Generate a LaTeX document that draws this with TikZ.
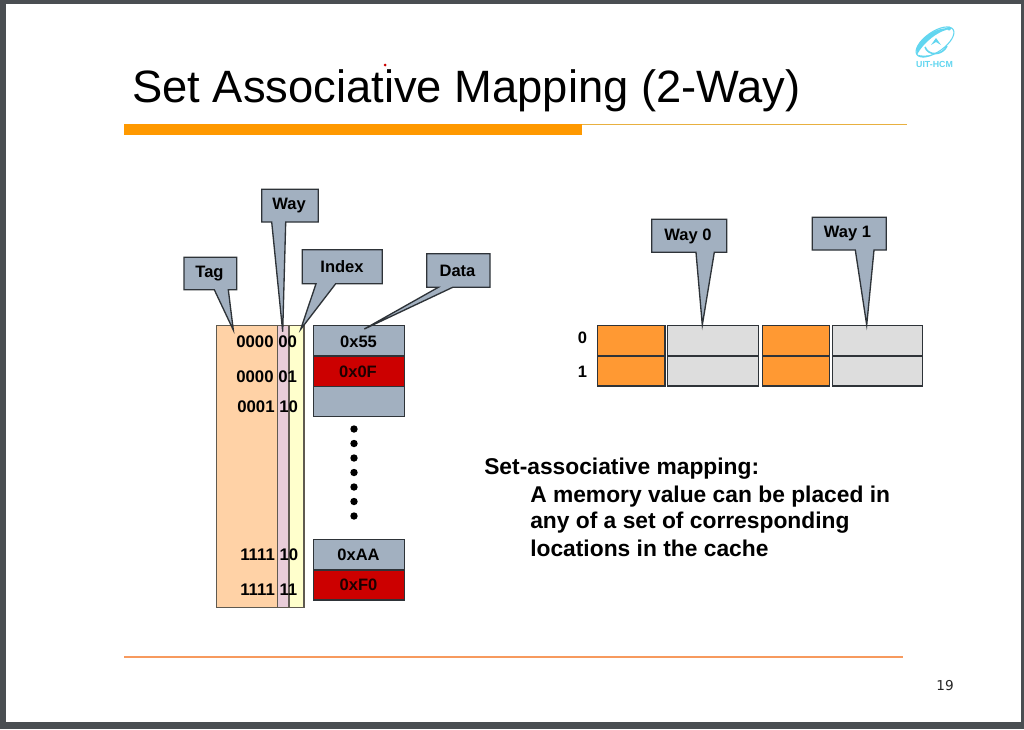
\documentclass[tikz,border=0pt]{standalone}
\usepackage{fontspec}
\setmainfont{Liberation Sans}
\newfontfamily\numfont{DejaVu Sans}
\definecolor{slate}{HTML}{A2B0C0}
\definecolor{edge}{HTML}{2E3338}
\definecolor{peach}{HTML}{FFD2A6}
\definecolor{pinkc}{HTML}{E9CDD9}
\definecolor{creamc}{HTML}{FFFFCC}
\definecolor{darkred}{HTML}{CC0000}
\definecolor{orangec}{HTML}{FF9933}
\definecolor{greyc}{HTML}{DDDDDD}
\definecolor{barc}{HTML}{FF9900}
\definecolor{linec}{HTML}{F79A5E}
\definecolor{topline}{HTML}{E8B040}
\definecolor{logoc}{HTML}{62D6F0}
\definecolor{frame}{HTML}{4A4E52}
\definecolor{redtext}{HTML}{1E0000}
\definecolor{coledge}{HTML}{5F5A50}
\tikzset{
  callout/.style={draw=edge,fill=slate,line width=1pt,line join=miter},
  calltext/.style={font=\fontsize{12.4}{14}\selectfont\bfseries,text=black,inner sep=0pt},
  col/.style={draw=coledge,line width=1.1pt,fill=#1},
  cell/.style={draw=edge,line width=1.1pt},
  addr/.style={font=\fontsize{12.6}{14}\selectfont\bfseries,text=black,inner sep=0pt},
  datat/.style={font=\fontsize{12.4}{14}\selectfont\bfseries,text=black,inner sep=0pt},
  redt/.style={datat,text=redtext},
  body/.style={font=\fontsize{17.1}{20}\selectfont\bfseries,text=black,inner sep=0pt,anchor=base west},
}
\begin{document}
\begin{tikzpicture}[x=0.75pt,y=-0.75pt]
\useasboundingbox (0,0) rectangle (1024,729);
\fill[frame] (0,0) rectangle (1024,729);
\fill[white] (6,4) rectangle (1021,722);
% title
\node[anchor=base west,inner sep=0pt,font=\fontsize{34}{40}\selectfont,text=black] (title) at (132,102.5) {Set Associative Mapping (2-Way)};
\fill[red!80!black] (385,65) circle (1.5);
\fill[barc] (124,124) rectangle (582,135);
\draw[topline,line width=0.7pt] (582,124.3) -- (907,124.3);
\draw[linec,line width=1pt] (124,657) -- (903,657);
\node[font=\fontsize{10.2}{12}\selectfont\numfont,text=black!85,inner sep=0pt] (pagenum) at (945,685.5) {19};
% logo
\begin{scope}[logoc]
  \draw[line width=0.8pt,rotate around={35:(935,42)}] (935,42) ellipse (22 and 10);
  \fill[rotate around={35:(935,42)}] (913,42) .. controls (915,30) and (945,28) .. (957,41) .. controls (945,34) and (925,36) .. (913,42) -- cycle;
  \fill[rotate around={35:(935,42)}] (913,42) .. controls (914,48) and (920,50) .. (926,51) .. controls (921,49) and (916,46) .. (913,42) -- cycle;
  \fill (949,28.5) circle (2);
  \fill (931,45) -- (936,38) -- (941,45) -- (936,42) -- cycle;
  \draw[line width=1.2pt] (925,47) .. controls (928,56) and (942,56) .. (947,46);
  \node[font=\fontsize{6.6}{8}\selectfont\bfseries,text=logoc,inner sep=0pt] (logotext) at (934.5,64.5) {UIT-HCM};
\end{scope}
% address columns
\draw[col=peach] (216.7,325.7) rectangle (277.3,607.3);
\draw[col=pinkc] (277.3,325.7) rectangle (289,607.3);
\draw[col=creamc] (289,325.7) rectangle (304,607.3);
% data cells
\draw[cell,fill=slate] (313.7,325.7) rectangle (404.3,356);
\draw[cell,fill=darkred] (313.7,356) rectangle (404.3,386.3);
\draw[cell,fill=slate] (313.7,386.3) rectangle (404.3,416.3);
\draw[cell,fill=slate] (313.7,539.7) rectangle (404.3,570);
\draw[cell,fill=darkred] (313.7,570) rectangle (404.3,600);
\foreach \yy in {429,443.5,458,472.5,487,501.5,516} \fill[black] (354,\yy) circle (3.7);
% callouts left
\draw[callout] (184,257.3) -- (236.7,257.3) -- (236.7,289.7) -- (228.3,289.7) -- (233.3,330) -- (214.3,289.7) -- (184,289.7) -- cycle;
\node[calltext] (tag) at (209.5,273.5) {Tag};
\draw[callout] (261.7,189.3) -- (318.3,189.3) -- (318.3,222) -- (285.7,222) -- (282.7,331.7) -- (271.7,222) -- (261.7,222) -- cycle;
\node[calltext] (way) at (289,206) {Way};
\draw[callout] (302.3,249.7) -- (382.3,249.7) -- (382.3,283.7) -- (335.7,283.7) -- (300.7,329.3) -- (316,283.7) -- (302.3,283.7) -- cycle;
\node[calltext] (index) at (342,267) {Index};
\draw[callout] (426.7,253.7) -- (490,253.7) -- (490,287.3) -- (452.7,287.3) -- (364.3,329) -- (438.3,287.3) -- (426.7,287.3) -- cycle;
\node[calltext] (data) at (457.5,270.5) {Data};
% address rows
\node[addr,anchor=west] (r1) at (236,341.5) {0000 00};
\node[addr,anchor=west] (r2) at (236,376.5) {0000 01};
\node[addr,anchor=west] (r3) at (237,406.5) {0001 10};
\node[addr,anchor=west] (r4) at (240,554.5) {1111 10};
\node[addr,anchor=west] (r5) at (240,589.5) {1111 11};
% data text
\node[datat] (d1) at (358.5,341.5) {0x55};
\node[redt] (d2) at (358,371.5) {0x0F};
\node[datat] (d3) at (358.5,555) {0xAA};
\node[redt] (d4) at (358.5,585) {0xF0};
% right cells
\foreach \xa/\xb in {597.3/665,762.7/829.3} {
  \draw[cell,fill=orangec] (\xa,325.7) rectangle (\xb,356);
  \draw[cell,fill=orangec] (\xa,356) rectangle (\xb,386);
}
\foreach \xa/\xb in {667.3/758.3,832.7/922.3} {
  \draw[cell,fill=greyc] (\xa,325.7) rectangle (\xb,356);
  \draw[cell,fill=greyc] (\xa,356) rectangle (\xb,386);
}
\node[calltext] (n0) at (582.5,337.5) {0};
\node[calltext] (n1) at (582.5,371.5) {1};
\draw[callout] (651.7,219.3) -- (726.7,219.3) -- (726.7,252.3) -- (714.3,252.3) -- (702.3,325) -- (696,252.3) -- (651.7,252.3) -- cycle;
\node[calltext] (way0) at (688,236.5) {Way 0};
\draw[callout] (812.3,217.3) -- (886.3,217.3) -- (886.3,250) -- (874,250) -- (866.7,325) -- (855.3,250) -- (812.3,250) -- cycle;
\node[calltext] (way1) at (847.5,233.5) {Way 1};
% body text
\node[body] (b1) at (484,474) {Set-associative mapping:};
\node[body] (b2) at (530,502) {A memory value can be placed in};
\node[body] (b3) at (530,528) {any of a set of corresponding};
\node[body] (b4) at (530,556) {locations in the cache};
\end{tikzpicture}
\end{document}
